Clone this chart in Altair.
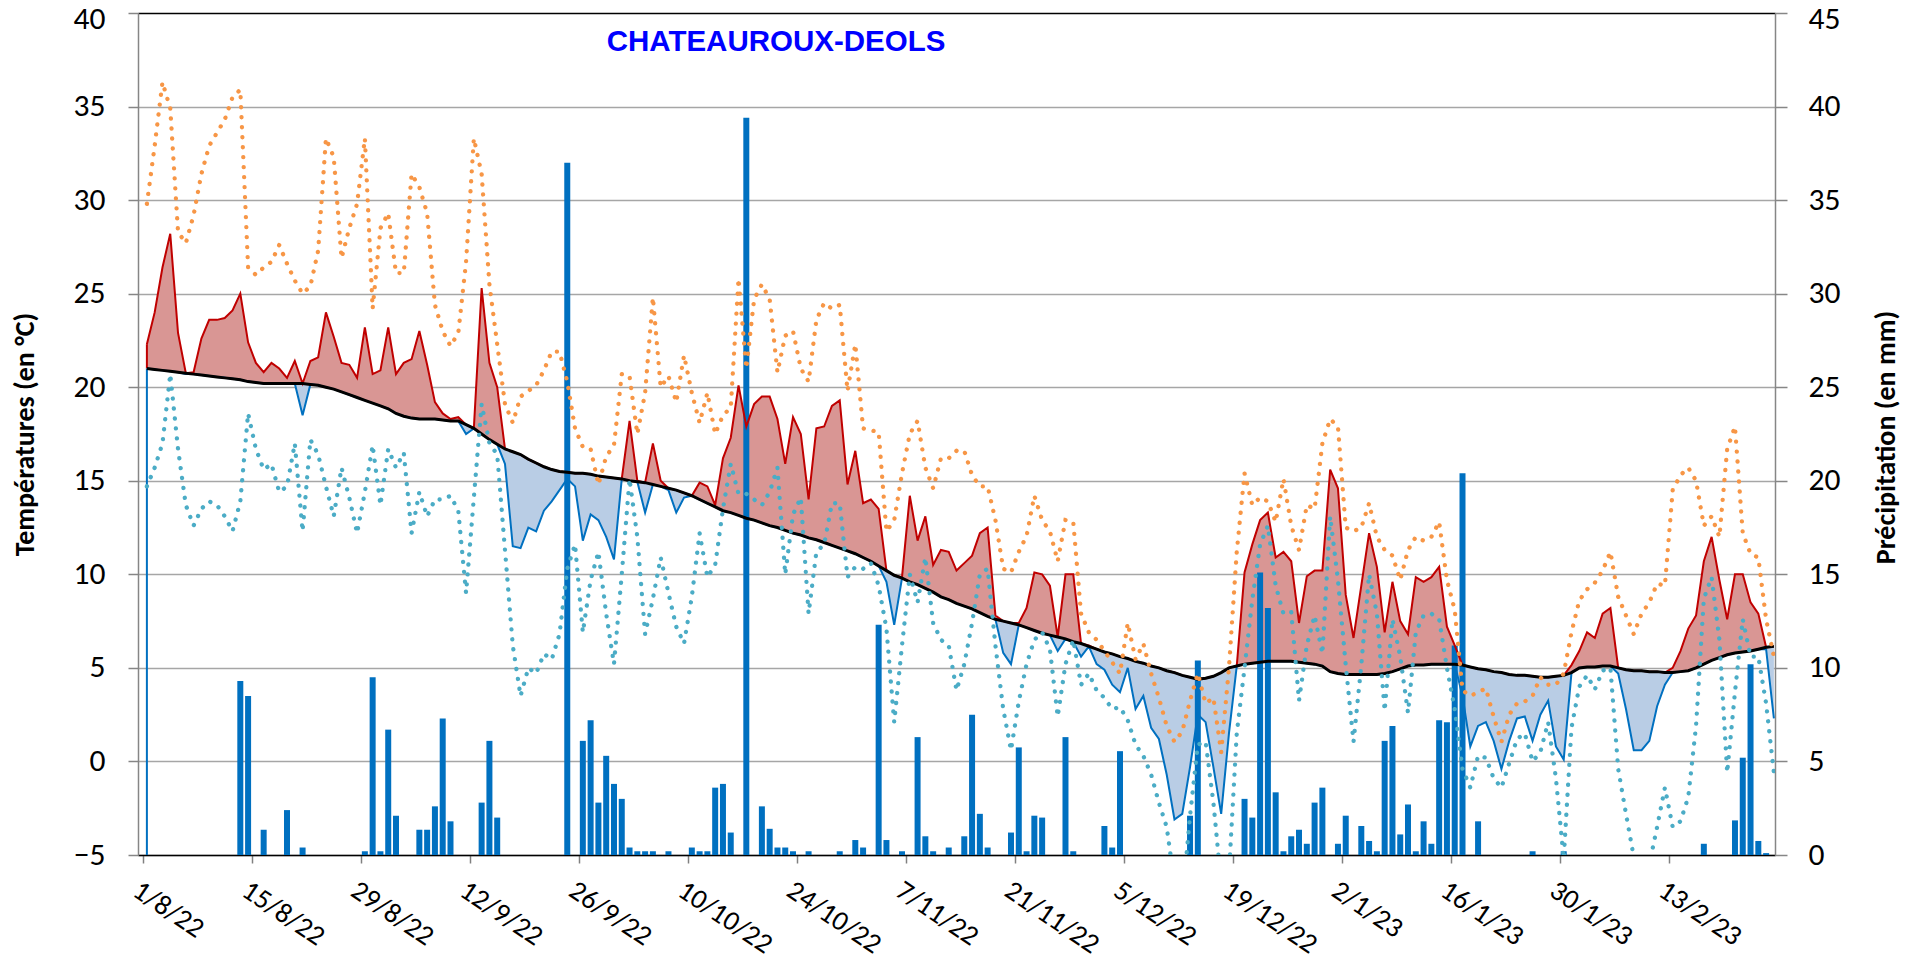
import altair as alt
import pandas as pd

# ---------------- data ----------------
# day index 0 = 1/8/22
mean_temp = [
    22.3, 24.0, 26.4, 28.2, 22.9, 20.7, 20.8, 22.6, 23.6, 23.6,
    23.7, 24.1, 25.0, 22.4, 21.3, 20.8, 21.3, 21.0, 20.5, 21.4,
    18.5, 21.4, 21.6, 24.0, 22.7, 21.3, 21.2, 20.5, 23.2, 20.7,
    20.9, 23.2, 20.7, 21.3, 21.5, 23.0, 21.2, 19.2, 18.6, 18.3,
    18.4, 17.5, 17.8, 25.3, 21.3, 20.0, 15.9, 11.5, 11.4, 12.5,
    12.3, 13.4, 13.9, 14.5, 15.1, 14.7, 11.8, 13.2, 12.9, 12.0,
    10.8, 15.1, 18.2, 15.0, 13.3, 17.0, 15.0, 14.5, 13.3, 14.1,
    14.2, 14.9, 14.7, 13.7, 16.2, 17.3, 20.1, 17.9, 19.1, 19.5,
    19.5, 18.3, 15.9, 18.4, 17.5, 14.0, 17.8, 17.9, 19.0, 19.3,
    14.8, 16.6, 13.8, 14.0, 13.5, 9.6, 7.3, 9.85, 14.2, 11.8,
    13.1, 10.5, 11.3, 11.2, 10.2, 10.6, 11.0, 12.2, 12.5, 7.8,
    5.8, 5.2, 7.4, 8.2, 10.1, 10.0, 9.4, 5.9, 10.0, 10.0,
    5.6, 6.2, 5.2, 4.9, 4.1, 3.7, 5.0, 2.8, 3.5, 1.8,
    1.2, -0.7, -3.1, -2.8, -0.3, 2.5, 2.1, -0.3, -2.8, 1.5,
    5.1, 10.1, 11.6, 12.9, 13.3, 10.9, 11.2, 10.7, 7.4, 9.9,
    10.2, 10.2, 15.6, 14.6, 8.9, 6.6, 9.4, 12.2, 10.4, 6.9,
    9.6, 7.5, 6.8, 9.85, 9.6, 9.85, 10.4, 7.2, 6.2, 3.5,
    0.8, 1.9, 2.1, 1.1, -0.4, 1.1, 2.3, 2.4, 1.1, 2.5,
    3.25, 0.8, 0.1, 5.15, 5.9, 6.9, 6.6, 7.9, 8.2, 4.7,
    2.8, 0.6, 0.6, 1.1, 2.95, 4.1, 5.0, 5.9, 7.1, 7.8,
    10.7, 12.0, 9.7, 7.6, 10.0, 10.0, 8.5, 7.9, 6.0, 2.3,
]

normal_temp = [
    21.0, 20.95, 20.9, 20.85, 20.8, 20.75, 20.7, 20.65, 20.6, 20.55,
    20.5, 20.45, 20.4, 20.3, 20.25, 20.2, 20.2, 20.2, 20.2, 20.2,
    20.2, 20.15, 20.1, 20.0, 19.9, 19.75, 19.6, 19.45, 19.3, 19.15,
    19.0, 18.85, 18.6, 18.45, 18.35, 18.3, 18.3, 18.3, 18.25, 18.2,
    18.2, 18.0, 17.8, 17.5, 17.2, 16.95, 16.7, 16.55, 16.4, 16.15,
    15.95, 15.75, 15.6, 15.5, 15.45, 15.4, 15.4, 15.35, 15.25, 15.2,
    15.15, 15.1, 15.0, 14.95, 14.9, 14.8, 14.7, 14.6, 14.5, 14.35,
    14.2, 14.0, 13.8, 13.6, 13.4, 13.3, 13.15, 13.0, 12.9, 12.75,
    12.6, 12.5, 12.35, 12.2, 12.1, 11.95, 11.85, 11.7, 11.55, 11.4,
    11.25, 11.1, 10.9, 10.7, 10.45, 10.2, 9.95, 9.8, 9.6, 9.45,
    9.25, 9.05, 8.8, 8.65, 8.45, 8.3, 8.15, 7.95, 7.75, 7.6,
    7.5, 7.4, 7.3, 7.15, 7.0, 6.85, 6.75, 6.65, 6.55, 6.4,
    6.3, 6.15, 6.0, 5.85, 5.75, 5.6, 5.5, 5.35, 5.25, 5.1,
    5.0, 4.85, 4.75, 4.6, 4.5, 4.4, 4.45, 4.55, 4.75, 5.0,
    5.1, 5.2, 5.25, 5.3, 5.35, 5.35, 5.35, 5.35, 5.3, 5.25,
    5.2, 5.1, 4.8, 4.7, 4.65, 4.65, 4.65, 4.65, 4.65, 4.7,
    4.8, 4.95, 5.1, 5.15, 5.15, 5.2, 5.2, 5.2, 5.2, 5.15,
    5.05, 4.95, 4.9, 4.8, 4.75, 4.65, 4.6, 4.6, 4.55, 4.5,
    4.5, 4.55, 4.6, 4.75, 5.0, 5.05, 5.05, 5.1, 5.1, 5.0,
    4.9, 4.85, 4.85, 4.8, 4.8, 4.75, 4.75, 4.8, 4.85, 5.0,
    5.2, 5.4, 5.55, 5.7, 5.8, 5.85, 5.9, 6.0, 6.1, 6.15,
]

max_temp = [
    29.8, 32.9, 36.3, 34.9, 28.3, 27.7, 29.2, 31.4, 32.9, 33.6,
    34.3, 35.5, 35.9, 26.4, 26.0, 26.4, 26.7, 27.6, 26.6, 25.7,
    25.0, 25.4, 27.3, 33.3, 32.3, 26.9, 28.5, 29.8, 33.3, 24.2,
    28.5, 29.3, 26.1, 26.1, 31.4, 30.7, 29.3, 24.4, 23.0, 22.2,
    22.9, 26.7, 33.3, 31.4, 25.5, 22.3, 19.1, 18.1, 19.5, 19.8,
    20.1, 20.9, 21.9, 21.9, 20.3, 17.8, 16.8, 16.7, 14.8, 16.3,
    16.9, 20.7, 20.6, 17.5, 19.7, 24.8, 20.0, 20.6, 19.2, 21.7,
    19.7, 18.1, 19.7, 17.5, 18.5, 18.9, 25.8, 21.0, 24.7, 25.5,
    24.7, 20.8, 22.75, 23.0, 21.0, 20.3, 23.6, 24.5, 24.2, 24.4,
    19.8, 22.3, 17.8, 17.7, 17.6, 12.3, 12.9, 15.4, 17.5, 18.2,
    15.7, 14.6, 16.2, 16.2, 16.6, 16.6, 15.3, 14.7, 14.7, 12.9,
    10.3, 10.1, 11.2, 12.05, 14.2, 12.9, 12.3, 10.7, 12.9, 12.8,
    7.9, 6.9, 6.5, 5.9, 5.3, 4.7, 7.4, 5.45, 6.3, 4.7,
    3.4, 1.9, 1.05, 1.6, 3.25, 4.7, 3.1, 3.4, 0.5, 5.0,
    11.2, 15.4, 13.7, 14.1, 13.9, 12.8, 15.1, 12.6, 11.3, 13.7,
    13.5, 17.0, 18.3, 17.9, 12.5, 12.3, 12.5, 13.8, 12.0, 11.3,
    11.0, 9.7, 11.3, 12.0, 11.8, 12.0, 12.8, 9.7, 8.1, 3.8,
    3.5, 3.7, 3.9, 2.4, 1.05, 2.5, 3.1, 3.2, 3.5, 4.5,
    4.1, 4.1, 4.7, 6.9, 8.6, 9.2, 9.55, 10.2, 11.2, 8.8,
    7.8, 6.8, 7.9, 8.5, 9.5, 9.4, 14.5, 15.3, 15.7, 15.0,
    12.6, 13.1, 12.0, 16.7, 17.9, 12.2, 11.1, 10.9, 7.6, 5.6,
]

min_temp = [
    14.7, 15.7, 17.0, 20.7, 16.7, 13.7, 12.6, 13.5, 13.9, 13.7,
    13.1, 12.3, 13.9, 18.6, 16.7, 15.6, 15.9, 14.4, 14.7, 17.0,
    12.3, 17.2, 16.4, 14.7, 13.1, 15.7, 14.1, 12.2, 14.4, 16.9,
    13.7, 16.7, 15.7, 16.5, 12.2, 14.4, 13.1, 14.0, 14.0, 14.2,
    13.4, 9.0, 14.1, 19.1, 17.0, 16.4, 11.3, 6.2, 3.5, 5.0,
    4.7, 5.75, 5.45, 6.8, 10.3, 11.6, 6.9, 9.7, 11.2, 7.9,
    5.2, 10.0, 15.1, 12.0, 6.8, 8.7, 10.9, 9.0, 7.2, 6.3,
    8.8, 12.2, 9.85, 10.5, 13.5, 15.9, 14.3, 14.3, 14.0, 13.7,
    14.4, 15.7, 10.0, 13.2, 14.1, 7.9, 11.2, 11.6, 13.8, 13.8,
    9.85, 10.4, 10.3, 10.6, 9.4, 7.1, 2.1, 6.2, 10.0, 8.5,
    10.9, 7.4, 6.5, 6.2, 3.8, 5.2, 7.4, 10.0, 10.3, 6.2,
    2.8, 0.6, 3.2, 5.2, 6.5, 6.9, 6.0, 2.4, 5.2, 6.5,
    4.1, 4.7, 3.8, 3.4, 2.8, 2.9, 2.2, 0.9, 0.3, -0.7,
    -2.2, -3.5, -6.5, -7.5, -2.9, 0.9, 1.05, -2.2, -6.5, -6.0,
    1.5, 5.0, 8.65, 11.6, 12.6, 9.4, 7.9, 8.0, 3.25, 6.2,
    7.8, 5.75, 13.1, 9.7, 5.15, 1.05, 5.15, 10.0, 7.9, 2.7,
    7.6, 5.6, 2.6, 6.9, 7.8, 7.9, 7.6, 5.0, 2.8, -0.4,
    -1.4, 0.3, 0.2, -0.9, -1.4, -0.1, 1.2, 1.5, 0.0, 0.5,
    2.1, -0.9, -5.2, 1.8, 4.0, 4.6, 3.85, 4.85, 5.0, -0.4,
    -2.8, -5.1, -5.8, -5.5, -3.5, -1.4, -3.5, -3.2, -1.9, 1.9,
    8.7, 9.85, 6.5, -0.6, 3.7, 7.6, 5.6, 5.6, 3.1, -0.6,
]

rain_days = [12, 13, 15, 18, 20, 28, 29, 30, 31, 32, 35, 36, 37, 38, 39, 43, 44, 45, 54,
             56, 57, 58, 59, 60, 61, 62, 63, 64, 65, 67, 70, 71, 72, 73, 74, 75, 77,
             79, 80, 81, 82, 83, 85, 89, 91, 92, 94, 95, 97, 99, 100, 101, 103,
             105, 106, 107, 108, 111, 112, 113, 114, 115, 118, 119, 123, 124, 125,
             134, 135, 141, 142, 143, 144, 145, 146, 147, 148, 149, 150, 151, 153, 154,
             156, 157, 158, 159, 160, 161, 162, 163, 164, 165, 166, 167, 168, 169,
             171, 178, 182, 200, 204, 205, 206, 207, 208]
rain_mm = [9.3, 8.5, 1.35, 2.4, 0.4, 0.2, 9.5, 0.2, 6.7, 2.1, 1.35, 1.35, 2.6, 7.3, 1.8, 2.8, 6.1, 2.0, 37.0,
           6.1, 7.2, 2.8, 5.3, 3.8, 3.0, 0.4, 0.2, 0.2, 0.2, 0.2, 0.4, 0.2, 0.2, 3.6, 3.8, 1.2, 39.4,
           2.6, 1.4, 0.4, 0.4, 0.2, 0.2, 0.2, 0.8, 0.4, 12.3, 0.8, 0.2, 6.3, 1.0, 0.2, 0.4,
           1.0, 7.5, 2.2, 0.4, 1.2, 5.75, 0.2, 2.1, 2.0, 6.3, 0.2, 1.55, 0.4, 5.55,
           2.1, 10.4, 3.0, 2.0, 15.1, 13.2, 3.35, 0.2, 1.0, 1.35, 0.6, 2.8, 3.6, 0.6, 2.1,
           1.55, 0.75, 0.2, 6.1, 6.9, 1.1, 2.7, 0.2, 1.8, 0.6, 7.2, 7.1, 11.2, 20.4,
           1.8, 0.2, 0.2, 0.6, 1.85, 5.2, 10.2, 0.75, 0.1]

tick_days = [0, 14, 28, 42, 56, 70, 84, 98, 112, 126, 140, 154, 168, 182, 196]
tick_labels = ["1/8/22", "15/8/22", "29/8/22", "12/9/22", "26/9/22", "10/10/22", "24/10/22",
               "7/11/22", "21/11/22", "5/12/22", "19/12/22", "2/1/23", "16/1/23", "30/1/23", "13/2/23"]

station = "CHATEAUROUX-DEOLS"

# ---------------- tables ----------------
n = len(mean_temp)
assert len(normal_temp) == n and len(max_temp) == n and len(min_temp) == n
assert len(rain_days) == len(rain_mm)

df = pd.DataFrame({"day": list(range(n)), "mean": mean_temp, "normal": normal_temp,
                   "tmax": max_temp, "tmin": min_temp})
df["x"] = df["day"] + 0.5
df["hi"] = df[["mean", "normal"]].max(axis=1)
df["lo"] = df[["mean", "normal"]].min(axis=1)

rain = pd.DataFrame({"day": rain_days, "mm": rain_mm})
rain["x"] = rain["day"] + 0.5

edge = df.iloc[[0]].copy()
edge["bottom"] = -5

FONT = "Carlito, Lato, sans-serif"
W, H = 1637, 842

label_expr = ("[" + ",".join("'%s'" % s for s in tick_labels) + "][indexof(["
              + ",".join(str(v) for v in tick_days) + "], datum.value)]")

x_enc = alt.X("x:Q", scale=alt.Scale(domain=[0, 209], nice=False, zero=False),
              axis=alt.Axis(values=tick_days, labelExpr=label_expr, labelAngle=34,
                            labelAlign="left", labelBaseline="top", labelFontSize=28,
                            labelFont=FONT, labelColor="black", labelPadding=13,
                            labelOverlap=False, labelFlush=False, labelBound=False,
                            tickSize=8, tickColor="#808080", tickWidth=1.5,
                            domainColor="black", domainWidth=1.5, grid=False, title=None))

temp_scale = alt.Scale(domain=[-5, 40], nice=False, zero=False)
temp_axis = alt.Axis(values=list(range(-5, 41, 5)), grid=True,
                     gridColor={"condition": {"test": "datum.value == 40", "value": "#000000"},
                                "value": "#A6A6A6"},
                     gridWidth=1.3, domainColor="#868686", domainWidth=1.5,
                     tickColor="#868686", tickSize=10, tickWidth=1.5,
                     labelFontSize=31.5, labelFont=FONT, labelColor="black", labelPadding=23,
                     labelOffset={"condition": {"test": "datum.value == 40", "value": 6}, "value": 0},
                     title="Températures (en °C)", titleFont=FONT, titleFontSize=28,
                     titleFontWeight="bold", titleColor="black", titleAngle=270,
                     titleX=-113, titleY=421, titleAlign="center", titleBaseline="middle")


def ty(field, axis=True):
    return alt.Y(field + ":Q", scale=temp_scale, axis=temp_axis if axis else None)


base = alt.Chart(df)

areas = alt.layer(
    base.mark_area(color="#D99694", clip=True).encode(x=x_enc, y=ty("hi"), y2=alt.Y2("normal:Q")),
    base.mark_area(color="#B9CDE5", clip=True).encode(x=x_enc, y=ty("lo"), y2=alt.Y2("normal:Q")),
)

bars = alt.Chart(rain).mark_bar(color="#0070C0", size=6, clip=True).encode(
    x=x_enc,
    y=alt.Y("mm:Q", scale=alt.Scale(domain=[0, 45], nice=False, zero=True),
            axis=alt.Axis(orient="right", values=list(range(0, 46, 5)), grid=False,
                          domainColor="#868686", domainWidth=1.5, tickColor="#868686",
                          tickSize=12, tickWidth=1.5, labelFontSize=31.5, labelFont=FONT,
                          labelColor="black", labelPadding=21,
                          labelOffset={"condition": {"test": "datum.value == 45", "value": 6},
                                       "value": 0},
                          title="Précipitation (en mm)", titleFont=FONT, titleFontSize=28,
                          titleFontWeight="bold", titleColor="black", titleAngle=270,
                          titleX=111, titleY=424, titleAlign="center", titleBaseline="middle")),
)

lines = alt.layer(
    base.mark_line(color="#C00000", strokeWidth=2, clip=True).encode(x=x_enc, y=ty("hi", False)),
    base.mark_line(color="#0070C0", strokeWidth=2, clip=True).encode(x=x_enc, y=ty("lo", False)),
    alt.Chart(edge).mark_rule(color="#C00000", strokeWidth=2).encode(
        x=x_enc, y=ty("hi", False), y2=alt.Y2("normal:Q")),
    alt.Chart(edge).mark_rule(color="#0070C0", strokeWidth=2).encode(
        x=x_enc, y=ty("lo", False), y2=alt.Y2("bottom:Q")),
    base.mark_line(color="#000000", strokeWidth=3, clip=True).encode(x=x_enc, y=ty("normal", False)),
    base.mark_line(color="#F79646", strokeWidth=4.3, strokeDash=[0.1, 9.9], strokeCap="round",
                   clip=True).encode(x=x_enc, y=ty("tmax", False)),
    base.mark_line(color="#4BACC6", strokeWidth=4.3, strokeDash=[0.1, 9.9], strokeCap="round",
                   clip=True).encode(x=x_enc, y=ty("tmin", False)),
)

title = alt.Chart(pd.DataFrame({"t": [station]})).mark_text(
    font="Liberation Sans", fontSize=29.5, fontWeight="bold", color="#0000FF",
    align="center", baseline="alphabetic").encode(
    text="t:N", x=alt.value(638), y=alt.value(38))

chart = alt.layer(areas, bars, lines, title).resolve_scale(y="independent").properties(
    width=W, height=H,
    padding={"left": 130, "top": 5, "right": 130, "bottom": 110},
    autosize=alt.AutoSizeParams(type="none"),
).configure_view(stroke=None).configure(background="white")

chart.save("out.html", embed_options={"renderer": "svg", "actions": False})
